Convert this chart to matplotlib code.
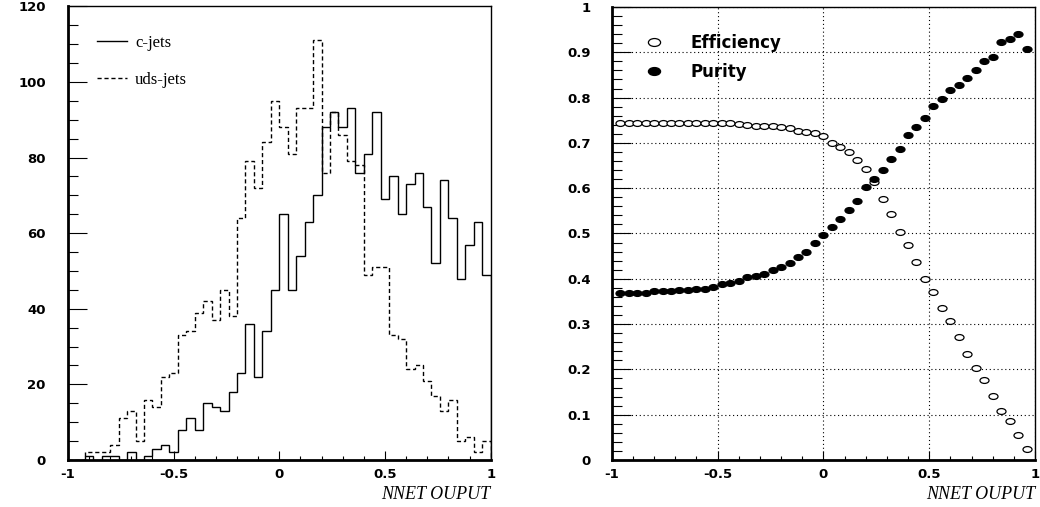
import numpy as np
import matplotlib.pyplot as plt
from matplotlib.path import Path
from matplotlib.transforms import Affine2D
from matplotlib.ticker import MultipleLocator, FuncFormatter

# NN output distributions, 50 bins on [-1, 1]
edges = np.linspace(-1.0, 1.0, 51)
c_jets = [0, 0, 1, 0, 1, 1, 0, 2, 0, 1,
          3, 4, 2, 8, 11, 8, 15, 14, 13, 18,
          23, 36, 22, 34, 45, 65, 45, 54, 63, 70,
          88, 92, 88, 93, 76, 81, 92, 69, 75, 65,
          73, 76, 67, 52, 74, 64, 48, 57, 63, 49]
uds_jets = [0, 0, 2, 2, 2, 4, 11, 13, 5, 16,
            14, 22, 23, 33, 34, 39, 42, 37, 45, 38,
            64, 79, 72, 84, 95, 88, 81, 93, 93, 111,
            76, 92, 86, 79, 78, 49, 51, 51, 33, 32,
            24, 25, 21, 17, 13, 16, 5, 6, 2, 5]

# cut scan on the NN output
cuts = np.round(edges[1:-1], 2)
efficiency = [0.745, 0.745, 0.745, 0.745, 0.745, 0.745, 0.745, 0.745, 0.745, 0.745,
              0.745, 0.745, 0.745, 0.745, 0.741, 0.740, 0.738, 0.738, 0.737, 0.736,
              0.732, 0.727, 0.725, 0.721, 0.715, 0.700, 0.692, 0.681, 0.662, 0.642,
              0.614, 0.576, 0.542, 0.504, 0.474, 0.438, 0.400, 0.371, 0.336, 0.306,
              0.271, 0.235, 0.203, 0.177, 0.141, 0.108, 0.085, 0.056, 0.024]
purity = [0.369, 0.369, 0.369, 0.369, 0.372, 0.372, 0.372, 0.375, 0.375, 0.378,
          0.378, 0.381, 0.388, 0.390, 0.396, 0.403, 0.406, 0.411, 0.419, 0.425,
          0.434, 0.449, 0.460, 0.478, 0.497, 0.514, 0.532, 0.552, 0.572, 0.602,
          0.620, 0.640, 0.664, 0.687, 0.717, 0.734, 0.755, 0.781, 0.796, 0.817,
          0.828, 0.843, 0.861, 0.881, 0.890, 0.923, 0.929, 0.940, 0.907]

plt.rcParams["font.family"] = "DejaVu Sans"
plt.rcParams["axes.unicode_minus"] = False

fig = plt.figure(figsize=(10.4, 5.07), dpi=100)
ax1 = fig.add_axes([0.0653, 0.0927, 0.4065, 0.8947])
ax2 = fig.add_axes([0.5882, 0.0927, 0.4070, 0.8935])

tick_font = {"family": "DejaVu Sans", "weight": "bold", "size": 9.5}
label_font = {"family": "Liberation Serif", "style": "italic", "size": 13}


def style_frame(ax):
    ax.spines["left"].set_linewidth(2.0)
    ax.spines["bottom"].set_linewidth(2.0)
    ax.spines["top"].set_linewidth(1.0)
    ax.spines["right"].set_linewidth(1.0)
    ax.tick_params(which="both", direction="in", top=False, right=False,
                   width=0.8)
    ax.xaxis.set_major_formatter(FuncFormatter(lambda v, p: "%g" % v))
    for lab in ax.get_xticklabels() + ax.get_yticklabels():
        lab.set_fontproperties(tick_font)
    ax.set_xlabel("NNET OUPUT", loc="right", labelpad=3, **label_font)


# left: output distributions
ax1.stairs(c_jets, edges, color="black", lw=1.0, label="c-jets")
ax1.stairs(uds_jets, edges, color="black", lw=1.0, linestyle=(0, (3, 2)),
           label="uds-jets")
ax1.set_xlim(-1, 1)
ax1.set_ylim(0, 120)
ax1.xaxis.set_major_locator(MultipleLocator(0.5))
ax1.xaxis.set_minor_locator(MultipleLocator(0.1))
ax1.yaxis.set_major_locator(MultipleLocator(20))
ax1.yaxis.set_minor_locator(MultipleLocator(5))
ax1.tick_params(axis="y", which="major", length=13.5, pad=16)
ax1.tick_params(axis="y", which="minor", length=7)
ax1.tick_params(axis="x", which="major", length=6.5, pad=6)
ax1.tick_params(axis="x", which="minor", length=3)
style_frame(ax1)
ax1.legend(loc="upper left", bbox_to_anchor=(0.068, 0.937), frameon=False,
           prop={"family": "Liberation Serif", "size": 12},
           handlelength=1.8, handletextpad=0.5, labelspacing=1.25,
           borderpad=0, borderaxespad=0)

# right: efficiency and purity versus cut
ellipse = Path.unit_circle().transformed(Affine2D().scale(1.0, 0.65))
ax2.plot(cuts, efficiency, linestyle="none", marker=ellipse, markersize=6.5,
         markerfacecolor="white", markeredgecolor="black", markeredgewidth=0.9,
         label="Efficiency")
ax2.plot(cuts, purity, linestyle="none", marker=ellipse, markersize=6.5,
         markerfacecolor="black", markeredgecolor="black", markeredgewidth=0.9,
         label="Purity")
ax2.set_xlim(-1, 1)
ax2.set_ylim(0, 1)
ax2.xaxis.set_major_locator(MultipleLocator(0.5))
ax2.xaxis.set_minor_locator(MultipleLocator(0.1))
ax2.yaxis.set_major_locator(MultipleLocator(0.1))
ax2.yaxis.set_minor_locator(MultipleLocator(0.02))
ax2.yaxis.set_major_formatter(FuncFormatter(lambda v, p: "%g" % round(v, 2)))
ax2.tick_params(axis="y", which="major", length=13.5, pad=15)
ax2.tick_params(axis="y", which="minor", length=7)
ax2.tick_params(axis="x", which="major", length=6.5, pad=6)
ax2.tick_params(axis="x", which="minor", length=3)
ax2.grid(True, which="major", color="black", linestyle=(0, (1, 2.5)), lw=0.8)
style_frame(ax2)
ax2.legend(loc="upper left", bbox_to_anchor=(0.079, 0.94), frameon=False,
           prop={"family": "DejaVu Sans", "weight": "bold", "size": 12},
           handlelength=1.0, handletextpad=1.7, labelspacing=0.65,
           borderpad=0, borderaxespad=0, markerscale=1.35)

fig.savefig("out.png", dpi=100)
